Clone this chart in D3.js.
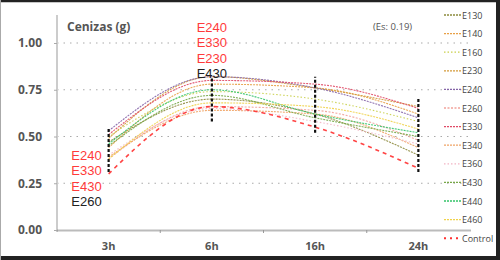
<!DOCTYPE html>
<html><head><meta charset="utf-8">
<script src="https://cdn.jsdelivr.net/npm/d3@7/dist/d3.min.js"></script>
<style>body{margin:0;background:#fff}svg{display:block}</style>
</head><body><svg id="c" width="500" height="260"></svg>
<script>
const categories = ["3h","6h","16h","24h"];
const seriesNames = ["E130","E140","E160","E230","E240","E260","E330","E340","E360","E430","E440","E460","Control"];
const E130 = [0.47,0.70,0.62,0.40];
const E140 = [0.44,0.78,0.76,0.62];
const E160 = [0.50,0.74,0.70,0.58];
const E230 = [0.49,0.82,0.76,0.66];
const E240 = [0.53,0.82,0.76,0.60];
const E260 = [0.38,0.66,0.64,0.48];
const E330 = [0.51,0.80,0.78,0.65];
const E340 = [0.39,0.64,0.62,0.44];
const E360 = [0.40,0.65,0.58,0.46];
const E430 = [0.45,0.72,0.60,0.50];
const E440 = [0.46,0.75,0.62,0.52];
const E460 = [0.38,0.68,0.66,0.54];
const Control = [0.30,0.66,0.55,0.33];
const errLow = [0.31,0.58,0.52,0.31];
const errHigh = [0.55,0.82,0.82,0.70];
const yTicks = [0,0.25,0.5,0.75,1.0];
const topLabels = ["E240","E330","E230","E430"];
const leftLabels = ["E240","E330","E430","E260"];
const title = "Cenizas (g)";
const note = "(Es: 0.19)";

const values = [E130,E140,E160,E230,E240,E260,E330,E340,E360,E430,E440,E460,Control];
const colors = ["#8c8a3c","#e8a046","#c9cf4a","#d39a3a","#8565a8","#f2a29a","#e04a66","#f0a466","#f2b4c4","#78a848","#35c46a","#f0d24a","#ff3030"];
const dashes = ["2,1","2,1","1.5,2","2,1","2,1","2,1.5","2,1","2,1","1.5,2","2,1","2,1","2,1","4,4"];

const svg = d3.select("#c");
const m = {l:57, r:470, t:15, b:230};
const x = d3.scaleBand().domain(categories).range([m.l, m.r]);
const y = d3.scaleLinear().domain([0,1.15]).range([m.b, m.b - 1.15*187]);
const cx = c => x(c) + x.bandwidth()/2;

// frame
svg.append("rect").attr("x",0).attr("y",0).attr("width",500).attr("height",260).attr("fill","#fff");
svg.append("line").attr("x1",0).attr("x2",500).attr("y1",1).attr("y2",1).attr("stroke","#222").attr("stroke-width",2.5);
svg.append("line").attr("x1",0).attr("x2",500).attr("y1",258).attr("y2",258).attr("stroke","#222").attr("stroke-width",4);
svg.append("line").attr("x1",498).attr("x2",498).attr("y1",0).attr("y2",260).attr("stroke","#222").attr("stroke-width",4);
svg.append("line").attr("x1",0.5).attr("x2",0.5).attr("y1",0).attr("y2",260).attr("stroke","#aaa").attr("stroke-width",1);

// gridlines
svg.append("g").selectAll("line").data(yTicks.filter(d=>d>0)).join("line")
  .attr("x1",m.l).attr("x2",m.r).attr("y1",d=>y(d)).attr("y2",d=>y(d))
  .attr("stroke","#aaa").attr("stroke-width",1.2).attr("stroke-dasharray","1.5,5");

// y axis line
svg.append("line").attr("x1",m.l).attr("x2",m.l).attr("y1",m.t).attr("y2",m.b+2).attr("stroke","#ccc").attr("stroke-width",2);

// y axis
const ya = svg.append("g").attr("transform",`translate(${m.l},0)`)
  .call(d3.axisLeft(y).tickValues(yTicks).tickFormat(d3.format(".2f")).tickSize(3).tickPadding(12));
ya.select(".domain").remove();
ya.selectAll("line").attr("stroke","#aaa");
ya.selectAll("text").attr("font-family","Open Sans, sans-serif").attr("font-size",12).attr("font-weight","bold").attr("fill","#555");

// x axis
const xa = svg.append("g").attr("transform",`translate(0,${m.b})`)
  .call(d3.axisBottom(x).tickSize(0).tickPadding(12));
xa.select(".domain").attr("stroke","#777").attr("stroke-width",2).attr("stroke-dasharray","1,1");
xa.selectAll("text").attr("font-family","Open Sans, sans-serif").attr("font-size",11).attr("font-weight","bold").attr("fill","#555");
svg.append("g").selectAll("line").data(categories.slice(1)).join("line")
  .attr("x1",d=>x(d)).attr("x2",d=>x(d)).attr("y1",m.b).attr("y2",m.b+3).attr("stroke","#999");

// lines
const line = d3.line().x((d,i)=>cx(categories[i])).y(d=>y(d)).curve(d3.curveMonotoneX);
const lg = svg.append("g");
values.forEach((v,k)=>{
  lg.append("path").attr("d",line(v)).attr("fill","none").attr("stroke",colors[k])
    .attr("stroke-width",k===12?1.6:1.1).attr("stroke-dasharray",dashes[k]).attr("opacity",0.9);
});

// error bars
svg.append("g").selectAll("line").data(categories).join("line")
  .attr("x1",d=>cx(d)).attr("x2",d=>cx(d))
  .attr("y1",(d,i)=>y(errLow[i])).attr("y2",(d,i)=>y(errHigh[i]))
  .attr("stroke","#111").attr("stroke-width",2.2).attr("stroke-dasharray","3,2");

// title & note
svg.append("text").attr("x",67).attr("y",31).text(title).attr("font-family","Open Sans, sans-serif")
  .attr("font-size",12).attr("font-weight","bold").attr("fill","#555");
svg.append("text").attr("x",373).attr("y",30).text(note).attr("font-family","Open Sans, sans-serif")
  .attr("font-size",9.5).attr("fill","#555");

// significance labels
const lblCol = (i)=> i<3 ? "#ff3b3b" : "#222";
const lblFont = "Liberation Sans, Arial, sans-serif";
svg.append("g").selectAll("text").data(topLabels).join("text")
  .attr("x",cx("6h")).attr("y",(d,i)=>32+i*15.4).attr("text-anchor","middle").text(d=>d)
  .attr("font-family",lblFont).attr("font-size",13).attr("fill",(d,i)=>lblCol(i));
svg.append("g").selectAll("text").data(leftLabels).join("text")
  .attr("x",cx("3h")-7).attr("y",(d,i)=>160+i*15.4).attr("text-anchor","end").text(d=>d)
  .attr("font-family",lblFont).attr("font-size",13).attr("fill",(d,i)=>lblCol(i));

// legend
const leg = svg.append("g");
seriesNames.forEach((n,k)=>{
  const yy = 15 + k*18.6;
  leg.append("line").attr("x1",444).attr("x2",461).attr("y1",yy).attr("y2",yy)
    .attr("stroke",colors[k]).attr("stroke-width",k===12?2:1.3).attr("stroke-dasharray",k===12?"2,4":dashes[k]);
  leg.append("text").attr("x",462).attr("y",yy+3.5).text(n)
    .attr("font-family","Open Sans, sans-serif").attr("font-size",9).attr("fill","#444");
});
</script></body></html>
